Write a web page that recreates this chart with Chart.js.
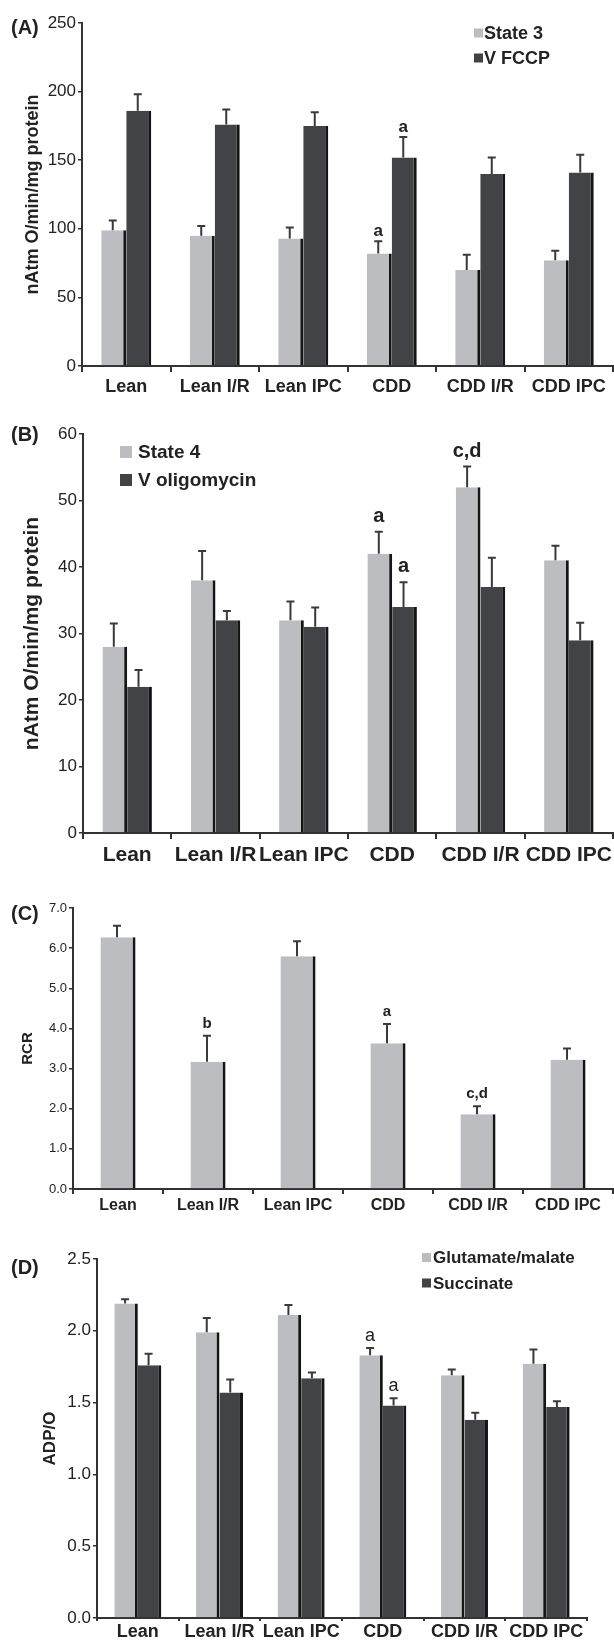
<!DOCTYPE html>
<html>
<head>
<meta charset="utf-8">
<script src="https://cdn.jsdelivr.net/npm/chart.js@4.4.1/dist/chart.umd.min.js"></script>
<style>
  body { margin: 0; background: #fff; width: 614px; height: 1640px; position: relative; overflow: hidden;
         font-family: 'Liberation Sans', Arial, sans-serif; }
  .panel { position: absolute; left: 0; width: 614px; }
  .tag { position: absolute; left: 11px; font-weight: bold; font-size: 20px; line-height: 20px; color: #222; }
</style>
</head>
<body>
<div class="panel" style="top:0;height:405px"><canvas id="chartA" width="614" height="405"></canvas></div>
<div class="panel" style="top:405px;height:470px"><canvas id="chartB" width="614" height="470"></canvas></div>
<div class="panel" style="top:875px;height:345px"><canvas id="chartC" width="614" height="345"></canvas></div>
<div class="panel" style="top:1220px;height:420px"><canvas id="chartD" width="614" height="420"></canvas></div>
<div class="tag" style="top:17px">(A)</div>
<div class="tag" style="top:424px">(B)</div>
<div class="tag" style="top:903px">(C)</div>
<div class="tag" style="top:1257px">(D)</div>
<script>
const groups = ['Lean', 'Lean I/R', 'Lean IPC', 'CDD', 'CDD I/R', 'CDD IPC'];

// (A) state 3 / V FCCP
const state3 = [99, 95, 93, 82, 70, 77];
const state3Err = [7, 7, 8, 9, 11, 7];
const state3Sig = ['', '', '', 'a', '', ''];
const vFccp = [186, 176, 175, 152, 140, 141];
const vFccpErr = [12, 11, 10, 15, 12, 13];
const vFccpSig = ['', '', '', 'a', '', ''];

// (B) state 4 / V oligomycin
const state4 = [28, 38, 32, 42, 52, 41];
const state4Err = [3.5, 4.4, 2.8, 3.3, 3.1, 2.2];
const state4Sig = ['', '', '', 'a', 'c,d', ''];
const vOligo = [22, 32, 31, 34, 37, 29];
const vOligoErr = [2.5, 1.4, 2.9, 3.7, 4.4, 2.6];
const vOligoSig = ['', '', '', 'a', '', ''];

// (C) RCR
const rcr = [6.27, 3.17, 5.80, 3.63, 1.86, 3.22];
const rcrErr = [0.29, 0.65, 0.37, 0.48, 0.20, 0.28];
const rcrSig = ['', 'b', '', 'a', 'c,d', ''];

// (D) ADP/O
const gluMal = [2.19, 1.99, 2.11, 1.83, 1.69, 1.77];
const gluMalErr = [0.03, 0.10, 0.07, 0.05, 0.04, 0.10];
const gluMalSig = ['', '', '', 'a', '', ''];
const succ = [1.76, 1.57, 1.67, 1.48, 1.38, 1.47];
const succErr = [0.08, 0.09, 0.04, 0.05, 0.05, 0.04];
const succSig = ['', '', '', 'a', '', ''];

const LIGHT = '#bcbdc1';
const DARK = '#424346';
const INK = '#222';
const FAMILY = "'Liberation Sans', Arial, sans-serif";

// error bars + significance letters
const errorBars = {
  id: 'errorBars',
  afterDatasetsDraw(chart, args, opts) {
    const { ctx } = chart;
    const y = chart.scales.y;
    ctx.save();
    chart.data.datasets.forEach((ds, i) => {
      const meta = chart.getDatasetMeta(i);
      meta.data.forEach((bar, j) => {
        const top = y.getPixelForValue(ds.data[j] + ds.err[j]);
        const cx = bar.x - 1;
        ctx.strokeStyle = '#3a3a3a';
        ctx.lineWidth = 2;
        ctx.beginPath();
        ctx.moveTo(cx, bar.y);
        ctx.lineTo(cx, top);
        ctx.moveTo(cx - 4, top);
        ctx.lineTo(cx + 4, top);
        ctx.stroke();
        if (ds.sig[j]) {
          ctx.fillStyle = INK;
          ctx.font = opts.sigFont;
          ctx.textAlign = 'center';
          ctx.textBaseline = 'alphabetic';
          ctx.fillText(ds.sig[j], cx, top - opts.sigGap);
        }
      });
    });
    ctx.restore();
  }
};

// square-box legend placed inside the plot
const boxLegend = {
  id: 'boxLegend',
  afterDraw(chart, args, opts) {
    if (!opts.show) return;
    const { ctx } = chart;
    ctx.save();
    ctx.font = opts.font;
    ctx.textBaseline = 'middle';
    ctx.textAlign = 'left';
    chart.data.datasets.forEach((ds, i) => {
      const cy = opts.y + i * opts.rowGap;
      ctx.fillStyle = ds.backgroundColor;
      ctx.fillRect(opts.x, cy - opts.box / 2, opts.box, opts.box);
      ctx.fillStyle = INK;
      ctx.fillText(ds.label, opts.x + opts.box + opts.textGap, cy + 1);
    });
    ctx.restore();
  }
};

function series(label, data, err, sig, color) {
  return {
    label, data, err, sig,
    backgroundColor: color,
    borderColor: '#151515',
    borderWidth: { top: 0, left: 0, bottom: 0, right: 3 },
    borderSkipped: false,
    barPercentage: 1
  };
}

function makePanel(id, p) {
  return new Chart(document.getElementById(id), {
    type: 'bar',
    data: { labels: groups, datasets: p.datasets.map(d => Object.assign(d, { categoryPercentage: p.catPct })) },
    options: {
      responsive: false,
      animation: false,
      layout: { padding: { top: p.padTop, right: p.padRight, bottom: 0, left: 0 } },
      plugins: {
        legend: { display: false },
        tooltip: { enabled: false },
        errorBars: { sigFont: p.sigFont, sigGap: p.sigGap },
        boxLegend: p.legend || { show: false }
      },
      scales: {
        x: {
          grid: { drawOnChartArea: false, drawTicks: true, tickLength: p.xTick, color: '#333', lineWidth: 2 },
          border: { color: '#333', width: 2 },
          ticks: {
            color: INK, autoSkip: false, maxRotation: 0, minRotation: 0, padding: p.xPad,
            font: { family: FAMILY, size: p.xFont, weight: 'bold' }
          },
          afterFit: s => { s.height = p.xHeight; s.paddingLeft = 0; s.paddingRight = 0; }
        },
        y: {
          min: 0, max: p.yMax,
          grid: { drawOnChartArea: false, tickLength: 4, color: '#333', lineWidth: 1.5 },
          border: { color: '#333', width: 2 },
          ticks: {
            stepSize: p.yStep, color: INK, padding: 2,
            font: { family: FAMILY, size: p.yFont },
            callback: v => p.yDigits ? v.toFixed(p.yDigits) : v
          },
          title: {
            display: true, text: p.yTitle, color: INK,
            font: { family: FAMILY, size: p.titleFont, weight: 'bold' },
            padding: { top: p.titlePad, bottom: 0 }
          },
          afterFit: s => { s.width = p.yWidth; s.paddingTop = 0; s.paddingBottom = 0; }
        }
      }
    },
    plugins: [errorBars, boxLegend]
  });
}

makePanel('chartA', {
  datasets: [
    series('State 3', state3, state3Err, state3Sig, LIGHT),
    series('V FCCP', vFccp, vFccpErr, vFccpSig, DARK)
  ],
  catPct: 0.565, padTop: 23, padRight: 1, yWidth: 82, xHeight: 39,
  xTick: 6, xPad: 4, xFont: 18, yFont: 17, yMax: 250, yStep: 50, yDigits: 0,
  yTitle: 'nAtm O/min/mg protein', titleFont: 18, titlePad: 22,
  sigFont: `bold 17px ${FAMILY}`, sigGap: 5,
  legend: { show: true, x: 474, y: 33, rowGap: 25, box: 9, textGap: 1, font: `bold 18px ${FAMILY}` }
});

makePanel('chartB', {
  datasets: [
    series('State 4', state4, state4Err, state4Sig, LIGHT),
    series('V oligomycin', vOligo, vOligoErr, vOligoSig, DARK)
  ],
  catPct: 0.56, padTop: 29, padRight: 1, yWidth: 83, xHeight: 42,
  xTick: 6, xPad: 4, xFont: 21, yFont: 17, yMax: 60, yStep: 10, yDigits: 0,
  yTitle: 'nAtm O/min/mg protein', titleFont: 21, titlePad: 20,
  sigFont: `bold 20px ${FAMILY}`, sigGap: 10,
  legend: { show: true, x: 120, y: 47, rowGap: 28, box: 12, textGap: 6, font: `bold 19px ${FAMILY}` }
});

makePanel('chartC', {
  datasets: [series('RCR', rcr, rcrErr, rcrSig, LIGHT)],
  catPct: 0.39, padTop: 33, padRight: 1, yWidth: 73, xHeight: 31,
  xTick: 5, xPad: 2, xFont: 16, yFont: 13, yMax: 7, yStep: 1, yDigits: 1,
  yTitle: 'RCR', titleFont: 15, titlePad: 19,
  sigFont: `bold 15px ${FAMILY}`, sigGap: 8
});

makePanel('chartD', {
  datasets: [
    series('Glutamate/malate', gluMal, gluMalErr, gluMalSig, LIGHT),
    series('Succinate', succ, succErr, succSig, DARK)
  ],
  catPct: 0.575, padTop: 39, padRight: 27, yWidth: 97, xHeight: 22,
  xTick: 3, xPad: 0, xFont: 18, yFont: 17, yMax: 2.5, yStep: 0.5, yDigits: 1,
  yTitle: 'ADP/O', titleFont: 17, titlePad: 40,
  sigFont: `18px ${FAMILY}`, sigGap: 7,
  legend: { show: true, x: 422, y: 37.5, rowGap: 25.5, box: 9, textGap: 2, font: `bold 17px ${FAMILY}` }
});
</script>
</body>
</html>
